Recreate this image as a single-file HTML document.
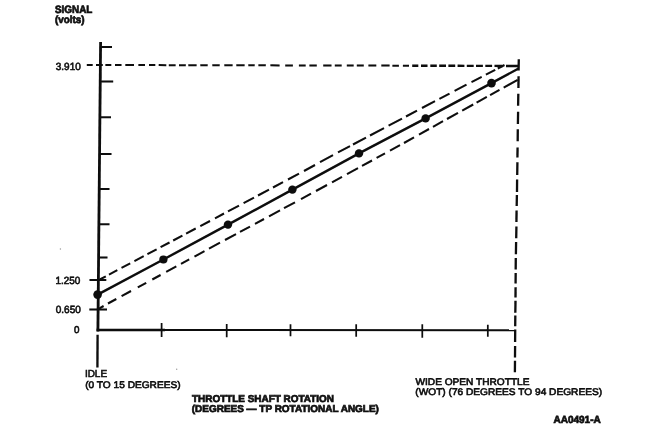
<!DOCTYPE html>
<html><head><meta charset="utf-8">
<style>
html,body{margin:0;padding:0;background:#fff;}
body{width:650px;height:440px;overflow:hidden;position:relative;font-family:"Liberation Sans",sans-serif;}
svg{position:absolute;left:0;top:0;display:block;}
text{font-family:"Liberation Sans",sans-serif;text-rendering:geometricPrecision;fill:#0c0c0c;stroke:#0c0c0c;stroke-width:0.6;}
.b{font-weight:bold;stroke-width:0.7;}
</style></head><body>
<svg width="650" height="440" viewBox="0 0 650 440">
<defs><filter id="soft" x="0" y="0" width="100%" height="100%" filterUnits="userSpaceOnUse"><feGaussianBlur stdDeviation="0.3"/></filter></defs>
<rect width="650" height="440" fill="#fff"/>
<g filter="url(#soft)">
<g stroke="#0a0a0a" fill="none" stroke-linecap="butt">
<path d="M100.6 42 L97.9 331.5" stroke-width="2.8"/>
<path d="M96.6 329.9 L165 329.95" stroke-width="2.5"/>
<path d="M160 329.95 L515.6 330.25" stroke-width="2"/>
<path d="M100.1 47H112 M99.7 81.5H113.2 M99.4 117.3H111 M99.1 154H111.5 M98.7 189H109.5 M98.4 224.3H109.5 M98.1 257.5H107.5" stroke-width="1.9"/>
<path d="M89.5 280 H106.3 M89.3 309.5 H107" stroke-width="1.9"/>
<path d="M161.6 323.1V337 M226.7 324V337.3 M290.5 324.3V336.2 M356.2 324.3V336.7 M422.3 324.3V337.8 M487.8 324.8V336.7" stroke-width="1.7"/>
<path d="M97.6 334.8 L97.4 367.5" stroke-width="2.3"/>
<path d="M97.6 294.6 L163.4 259.5 L228 224.6 L292.4 189.6 L359 153.4 L425.6 118.4 L491.5 83.1 L518.6 68.5" stroke-width="2.4"/>
<path d="M99.8 279.5L105.8 276.3 M109.0 274.6L117.3 270.2 M121.5 267.9L130.2 263.3 M134.4 261.1L143.7 256.2 M147.4 254.2L156.6 249.3 M160.6 247.2L169.5 242.5 M173.2 240.5L182.4 235.6 M186.1 233.6L195.7 228.5 M200.3 226.1L210.0 221.0 M215.0 218.3L224.0 213.5 M228.0 211.4L239.0 205.6 M243.6 203.1L254.0 197.6 M258.0 195.5L269.0 189.6 M273.0 187.5L283.0 182.2 M288.0 179.5L299.0 173.7 M304.0 171.0L315.0 165.0 M320.0 162.2L333.0 155.1 M338.0 152.4L350.0 146.1 M353.0 144.5L366.0 137.6 M370.0 135.5L384.0 128.1 M388.6 125.7L402.0 118.6 M406.0 116.5L417.0 110.6 M422.0 108.0L435.0 101.1 M439.4 98.8L449.5 93.6 M454.6 90.9L466.5 84.7 M471.5 82.1L481.7 76.9 M485.9 74.7L495.2 69.8 M497.8 68.5L504.5 65.0" stroke-width="2.05"/>
<path d="M98.6 308.8L103.6 306.0 M108.0 303.5L116.3 299.0 M121.6 296.1L131.0 291.0 M137.8 287.3L146.2 282.8 M152.3 279.5L160.6 275.0 M166.2 271.9L176.3 266.4 M181.0 263.9L189.2 259.4 M194.5 256.6L204.5 251.1 M209.0 248.7L220.0 242.7 M225.0 240.0L236.0 234.1 M240.0 231.9L250.0 226.6 M255.0 223.9L264.0 219.0 M269.0 216.3L280.0 210.4 M284.0 208.2L295.0 202.3 M301.0 199.1L311.0 193.7 M316.0 191.0L327.0 185.0 M332.0 182.3L342.0 176.8 M347.0 174.1L358.0 168.1 M362.0 165.9L372.0 160.5 M376.6 157.9L385.0 153.4 M390.0 150.6L400.0 145.2 M404.0 143.0L414.0 137.4 M419.0 134.6L429.0 129.0 M433.0 126.8L443.0 121.2 M447.0 119.0L458.0 112.9 M462.2 110.6L473.2 104.5 M476.6 102.6L486.8 96.9 M490.1 95.1L499.5 89.9 M503.7 87.6L517.7 79.8" stroke-width="2.05"/>
<path d="M86.8 65.0L92.7 65.0 M96.0 65.0L102.8 65.0 M105.4 65.0L111.3 65.0 M115.0 65.1L121.5 65.1 M125.3 65.1L134.0 65.1 M138.4 65.1L145.0 65.1 M149.0 65.1L155.3 65.1 M158.7 65.1L166.3 65.2 M168.8 65.2L175.6 65.2 M179.0 65.2L185.8 65.2 M188.3 65.2L196.6 65.2 M200.3 65.2L207.7 65.2 M212.3 65.2L219.7 65.2 M224.3 65.3L232.6 65.3 M236.3 65.3L244.6 65.3 M248.3 65.3L254.7 65.3 M258.4 65.3L265.8 65.3 M270.4 65.3L279.6 65.4 M285.2 65.4L292.9 65.4 M298.9 65.4L305.7 65.4 M309.4 65.4L316.8 65.4 M323.2 65.5L331.5 65.5 M334.8 65.5L341.7 65.5 M346.8 65.5L353.7 65.5 M356.8 65.6L363.8 65.6 M368.4 65.6L376.3 65.6 M381.3 65.6L389.6 65.6 M392.4 65.7L398.9 65.7 M402.9 65.7L409.0 65.7" stroke-width="2"/>
<path d="M412.2 65.7L418.3 65.7 M421.0 65.7L427.5 65.7 M430.3 65.8L436.8 65.8 M439.2 65.8L446.0 65.8 M448.4 65.8L455.2 65.8 M457.6 65.8L464.4 65.9 M466.8 65.9L473.7 65.9 M476.0 65.9L482.9 65.9 M485.3 65.9L492.1 65.9 M494.5 65.9L502.3 66.0 M506.0 66.0L518.9 66.0" stroke-width="2.4"/>
<path d="M518.8 59.3L518.6 70.6 M518.6 76.2L518.4 88.0 M518.3 93.7L518.1 105.8 M518.1 111.8L517.9 124.0 M517.8 129.3L517.7 141.2 M517.6 147.4L517.4 157.6 M517.4 162.3L517.2 175.0 M517.1 179.6L517.0 192.0 M516.9 195.0L516.7 206.0 M516.6 210.6L516.4 222.1 M516.4 226.4L516.2 238.2 M516.1 242.1L515.9 254.3 M515.8 258.0L515.7 269.5 M515.7 272.9L515.6 283.4 M515.6 287.3L515.5 297.5 M515.5 300.8L515.3 312.7 M515.3 315.6L515.2 326.2 M515.2 329.5L515.1 342.1 M515.1 346.0L515.0 357.4 M515.0 360.8L514.9 372.3" stroke-width="2.3"/>
</g>
<g fill="#0a0a0a">
<circle cx="97.6" cy="294.6" r="4.3"/>
<circle cx="163.4" cy="259.5" r="4.1"/>
<circle cx="228" cy="224.6" r="4.2"/>
<circle cx="292.4" cy="189.6" r="4.2"/>
<circle cx="359" cy="153.4" r="4.2"/>
<circle cx="425.6" cy="118.4" r="4.2"/>
<circle cx="491.5" cy="83.1" r="4.3"/>
</g>
<g fill="#9a9a9a"><circle cx="176.7" cy="369.2" r="0.7"/><circle cx="60.4" cy="249" r="0.7"/></g>
<g font-size="9.6">
<text class="b" x="55" y="13.3" font-size="10.7" textLength="37.4" lengthAdjust="spacingAndGlyphs">SIGNAL</text>
<text class="b" x="55" y="23.4" font-size="10.3" textLength="29.6" lengthAdjust="spacingAndGlyphs">(volts)</text>
<text x="55.8" y="69.6" font-size="10.4" textLength="25" lengthAdjust="spacingAndGlyphs">3.910</text>
<text x="55.4" y="284.1" font-size="10.4" textLength="24.8" lengthAdjust="spacingAndGlyphs">1.250</text>
<text x="55.8" y="312.9" font-size="10.4" textLength="25" lengthAdjust="spacingAndGlyphs">0.650</text>
<text x="73.9" y="333.4" font-size="9.8">0</text>
<text x="84.9" y="377.4" font-size="10.1" textLength="22.2" lengthAdjust="spacingAndGlyphs">IDLE</text>
<text x="85.2" y="387.5" textLength="95.4" lengthAdjust="spacingAndGlyphs">(0 TO 15 DEGREES)</text>
<text class="b" x="192" y="401.8" font-size="9.9" textLength="142" lengthAdjust="spacingAndGlyphs">THROTTLE SHAFT ROTATION</text>
<text class="b" x="191.8" y="411.8" font-size="9.9" textLength="187.1" lengthAdjust="spacingAndGlyphs">(DEGREES — TP ROTATIONAL ANGLE)</text>
<text x="415.5" y="385.2" textLength="114" lengthAdjust="spacingAndGlyphs">WIDE OPEN THROTTLE</text>
<text x="415.3" y="395.3" textLength="186.8" lengthAdjust="spacingAndGlyphs">(WOT) (76 DEGREES TO 94 DEGREES)</text>
<text class="b" x="553.4" y="422.8" font-size="10.3" textLength="47.4" lengthAdjust="spacingAndGlyphs">AA0491-A</text>
</g>
</g>
</svg>
</body></html>
